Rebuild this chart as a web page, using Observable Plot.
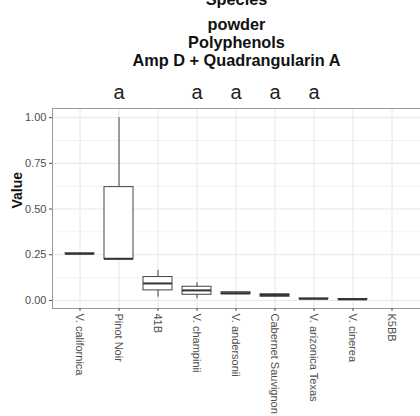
<!DOCTYPE html>
<html>
<head>
<meta charset="utf-8">
<script src="https://cdn.jsdelivr.net/npm/d3@7"></script>
<script src="https://cdn.jsdelivr.net/npm/@observablehq/plot@0.6"></script>
<style>
  html, body { margin: 0; padding: 0; background: #fff; overflow: hidden; }
  #chart { width: 420px; height: 416px; }
  svg { font-family: "Liberation Sans", Arial, sans-serif; }
</style>
</head>
<body>
<div id="chart"></div>
<script>
const categories = ["V. californica", "Pinot Noir", "41B", "V. champinii", "V. andersonii",
  "Cabernet Sauvignon", "V. arizonica Texas", "V. cinerea", "K5BB"];
const yMin   = [0.255, 0.225, 0.018, 0.009, 0.033, 0.015, 0.009, 0.006, null];
const q1     = [0.255, 0.225, 0.055, 0.031, 0.033, 0.020, 0.009, 0.006, null];
const median = [0.255, 0.228, 0.093, 0.055, 0.040, 0.030, 0.009, 0.006, null];
const q3     = [0.258, 0.620, 0.128, 0.075, 0.045, 0.034, 0.011, 0.008, null];
const yMax   = [0.258, 1.000, 0.164, 0.097, 0.047, 0.036, 0.011, 0.008, null];
const letters = ["", "a", "", "a", "a", "a", "a", "", ""];
const titleLines = ["Species", "powder", "Polyphenols", "Amp D + Quadrangularin A"];
const yTicks = [0, 0.25, 0.5, 0.75, 1];
const yMinorTicks = [0.125, 0.375, 0.625, 0.875];

const rows = categories.map((c, i) => ({
  cat: c, lo: yMin[i], q1: q1[i], med: median[i], q3: q3[i], hi: yMax[i], letter: letters[i]
}));
const boxes = rows.filter(d => d.med != null);

const titleOffsets = [-104, -79, -61, -43]; // baseline relative to frame top

const plot = Plot.plot({
  width: 420,
  height: 416,
  marginLeft: 52,
  marginRight: 0,
  marginTop: 108,
  marginBottom: 108,
  style: { fontFamily: "'Liberation Sans', Arial, sans-serif", background: "#fff" },
  x: { domain: categories, paddingInner: 0.25, paddingOuter: 0.2375, label: null },
  y: { domain: [-0.044, 1.05], label: null },
  marks: [
    Plot.ruleY(yMinorTicks, { stroke: "#ebebeb", strokeWidth: 0.6 }),
    Plot.ruleY(yTicks, { stroke: "#e6e6e6", strokeWidth: 1 }),
    Plot.ruleX(categories, { x: d => d, stroke: "#e6e6e6", strokeWidth: 1 }),
    Plot.ruleX(boxes, { x: "cat", y1: "lo", y2: "hi", stroke: "#444", strokeWidth: 1 }),
    Plot.barY(boxes, { x: "cat", y1: "q1", y2: "q3", fill: "#fff", stroke: "#444", strokeWidth: 1 }),
    Plot.tickY(boxes, { x: "cat", y: "med", stroke: "#333", strokeWidth: 2 }),
    Plot.frame({ anchor: "left", stroke: "#999" }),
    Plot.frame({ anchor: "top", stroke: "#999" }),
    Plot.frame({ anchor: "bottom", stroke: "#999" }),
    Plot.axisY({ ticks: yTicks, tickFormat: d3.format(".2f"), fontSize: 11, color: "#4d4d4d",
      tickSize: 3, tickPadding: 3, label: null }),
    Plot.axisX({ tickRotate: 90, fontSize: 11, color: "#4d4d4d", tickSize: 3, tickPadding: 2, label: null }),
    Plot.text(rows, { x: "cat", text: "letter", frameAnchor: "top", lineAnchor: "bottom",
      dy: -10, fontSize: 20, fill: "#222" }),
    Plot.text(["Value"], { frameAnchor: "left", dx: -35, rotate: -90, fontSize: 14,
      fontWeight: "bold", fill: "#111" }),
    ...titleLines.map((t, i) => Plot.text([t], { text: d => d, frameAnchor: "top", lineAnchor: "bottom",
      dy: titleOffsets[i], fontSize: 16.3, fontWeight: "bold", fill: "#111" }))
  ]
});

document.getElementById("chart").appendChild(plot);
</script>
</body>
</html>
